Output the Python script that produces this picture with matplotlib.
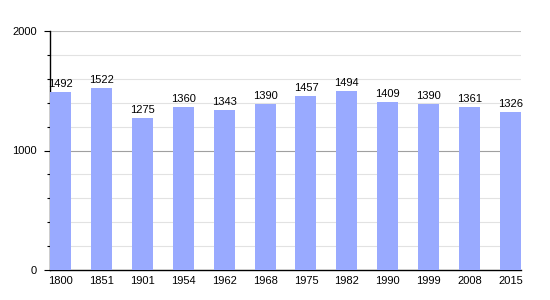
import matplotlib
matplotlib.use("Agg")
import matplotlib.pyplot as plt
from matplotlib.ticker import MultipleLocator

years = ["1800", "1851", "1901", "1954", "1962", "1968", "1975", "1982", "1990", "1999", "2008", "2015"]
population = [1492, 1522, 1275, 1360, 1343, 1390, 1457, 1494, 1409, 1390, 1361, 1326]

plt.rcParams['font.family'] = ['Liberation Sans', 'DejaVu Sans']
fig = plt.figure(figsize=(5.5, 3), dpi=100)
ax = fig.add_axes([50/550, 30/300, 471/550, 239/300])

w = 0.513
x = list(range(len(years)))
ax.bar(x, population, width=w, color='#99aaff', zorder=3)
for xi, v in zip(x, population):
    ax.text(xi, v + 25, str(v), ha='center', va='bottom', fontsize=8, color='black', zorder=4)

ax.set_xlim(-w/2, len(years) - 1 + w/2)
ax.set_ylim(0, 2000)
ax.set_xticks(x)
ax.set_xticklabels(years, fontsize=8)
ax.tick_params(axis='x', length=0, pad=4)
ax.set_yticks([0, 1000, 2000])
ax.set_yticklabels(["0", "1000", "2000"], fontsize=8)
ax.yaxis.set_minor_locator(MultipleLocator(200))
ax.tick_params(axis='y', which='major', length=4.5, width=0.8, pad=5, color='black')
ax.tick_params(axis='y', which='minor', length=2, width=0.8, color='black')

for y in range(200, 2001, 200):
    if y == 1000:
        col = '#a0a0a0'
    elif y == 2000:
        col = '#c0c0c0'
    else:
        col = '#e2e2e2'
    ax.axhline(y, color=col, linewidth=0.8, zorder=1)

for s in ['top', 'right']:
    ax.spines[s].set_visible(False)
ax.spines['left'].set_color('black')
ax.spines['bottom'].set_color('black')
ax.spines['left'].set_linewidth(1)
ax.spines['bottom'].set_linewidth(1)

fig.savefig('out.png', dpi=100)
